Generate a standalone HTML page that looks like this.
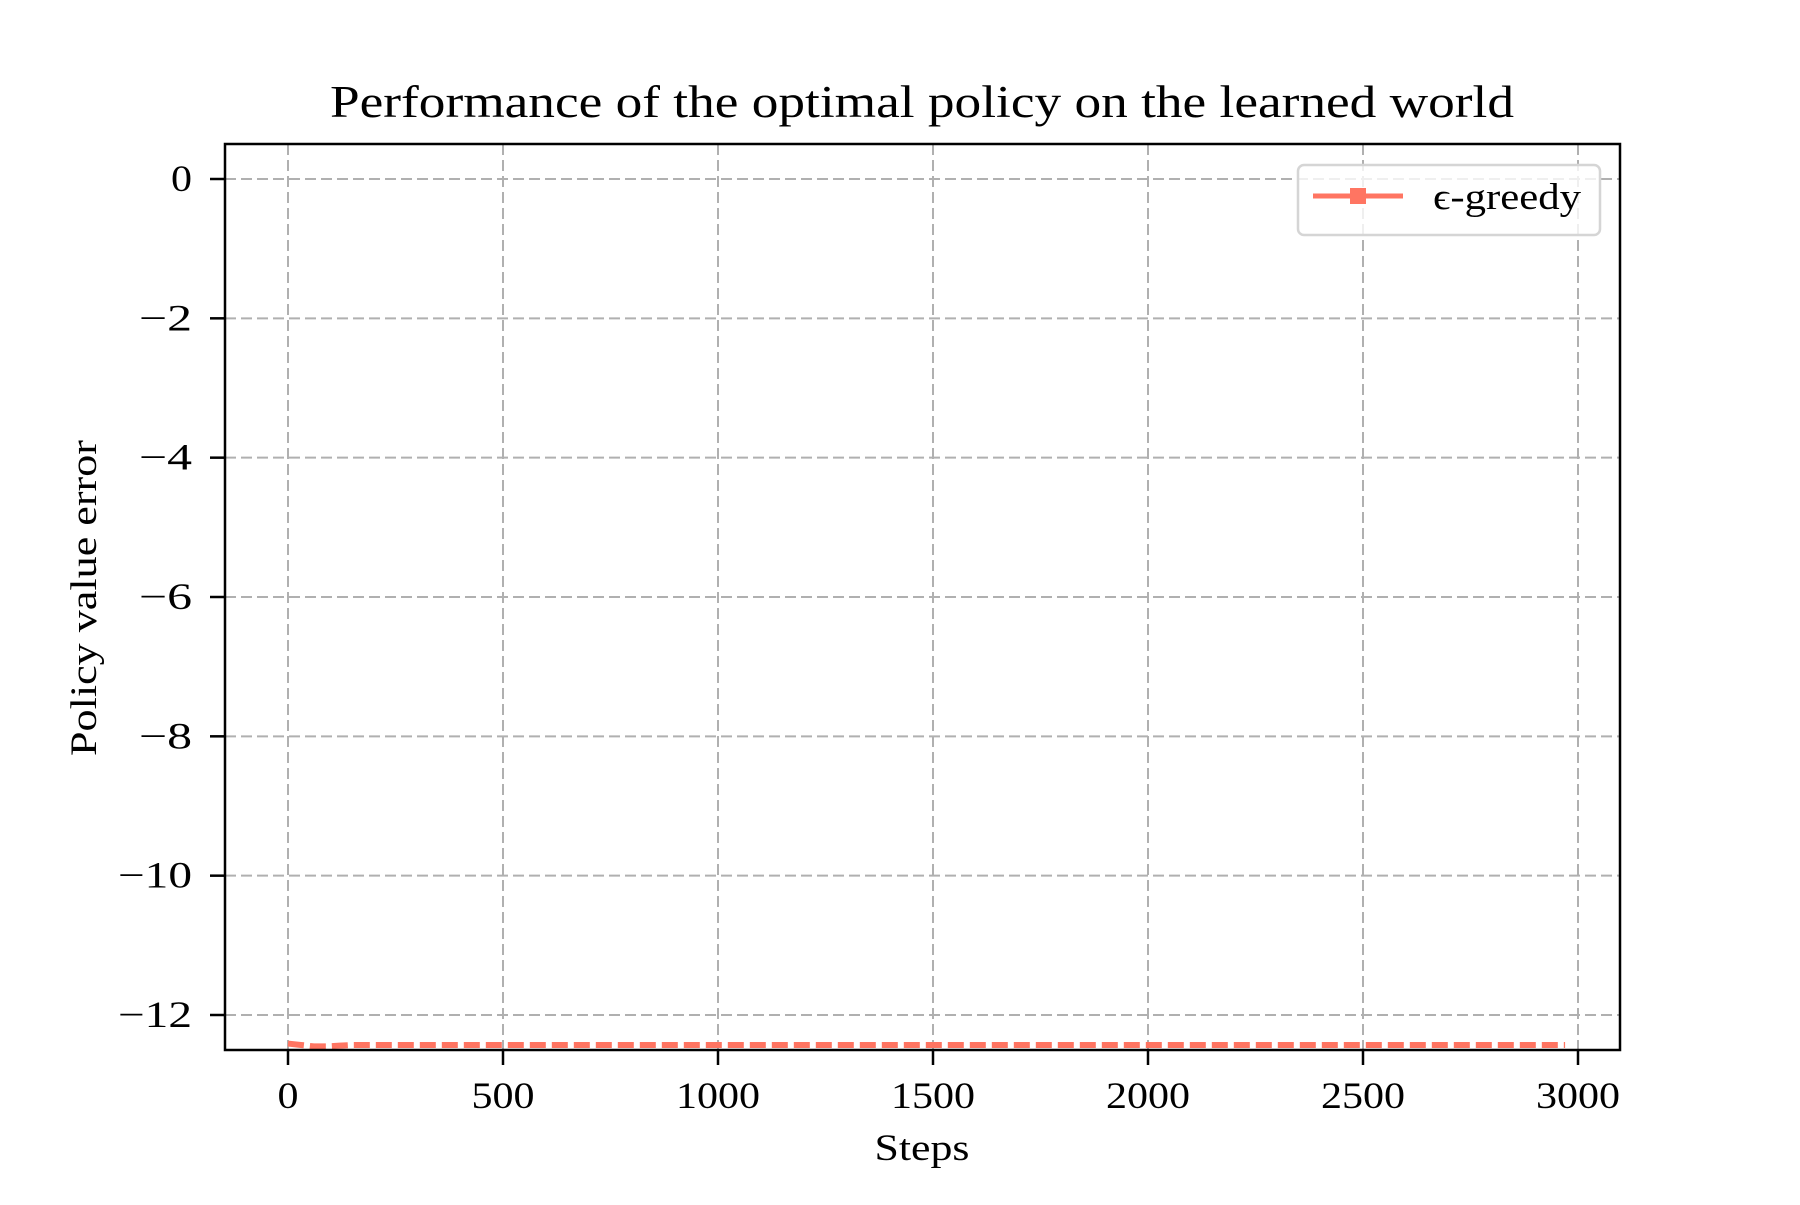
<!DOCTYPE html>
<html><head><meta charset="utf-8"><style>
html,body{margin:0;padding:0;background:#fff;}
svg text{font-family:"Liberation Serif","DejaVu Serif",serif;fill:#000;}
</style></head><body>
<svg id="chart" width="1800" height="1200" viewBox="0 0 1800 1200" xmlns="http://www.w3.org/2000/svg">
<rect width="1800" height="1200" fill="#fff"/>
<text x="922" y="117" font-size="45" text-anchor="middle" textLength="1184" lengthAdjust="spacingAndGlyphs">Performance of the optimal policy on the learned world</text>
<g id="grid"></g>
<g id="series"></g>
<rect x="225" y="144" width="1395" height="906" fill="none" stroke="#000" stroke-width="2.5"/>
<g id="ticks"></g>
<text x="922" y="1160" font-size="37" text-anchor="middle" textLength="95" lengthAdjust="spacingAndGlyphs">Steps</text>
<text transform="translate(96,598) rotate(-90)" font-size="37" text-anchor="middle" textLength="316" lengthAdjust="spacingAndGlyphs">Policy value error</text>
<g>
<rect x="1298" y="165" width="302" height="70" rx="6" fill="#fff" fill-opacity="0.8" stroke="#d5d5d5" stroke-width="2.5"/>
<line x1="1313" y1="196" x2="1403" y2="196" stroke="#ff7562" stroke-width="5"/>
<rect x="1350" y="188" width="16" height="16" fill="#ff7562"/>
<text x="1433" y="209" font-size="37" textLength="148" lengthAdjust="spacingAndGlyphs">ϵ-greedy</text>
</g>
</svg>
<script>
const xTicks = [0, 500, 1000, 1500, 2000, 2500, 3000];
const yTicks = [0, -2, -4, -6, -8, -10, -12];
const steps = [0, 30, 60, 90, 120, 150, 300, 600, 900, 1200, 1500, 1800, 2100, 2400, 2700, 2970];
const values = [-12.41, -12.43, -12.45, -12.45, -12.44, -12.43, -12.43, -12.43, -12.43, -12.43, -12.43, -12.43, -12.43, -12.43, -12.43, -12.43];
const NS = "http://www.w3.org/2000/svg";
function sx(v){ return 288 + (v - 0) * (1578 - 288) / 3000; }
function sy(v){ return 179 + (0 - v) * (1015 - 179) / 12; }
function mk(tag, attrs, parent){ const e = document.createElementNS(NS, tag); for (const k in attrs) e.setAttribute(k, attrs[k]); parent.appendChild(e); return e; }
const grid = document.getElementById('grid');
const ticks = document.getElementById('ticks');
xTicks.forEach(t => {
  const x = sx(t);
  const g = mk('line', {x1:x, y1:144, x2:x, y2:1050, stroke:'#b0b0b0', 'stroke-width':2, 'stroke-dasharray':'11,5'}, grid);
  
  
  const tk = mk('line', {x1:x, y1:1050, x2:x, y2:1065, stroke:'#000', 'stroke-width':2.5}, ticks);
  
  
  const s = String(t);
  const tx = mk('text', {x:x, y:1108, 'font-size':37, 'text-anchor':'middle', textLength: s.length * 21, lengthAdjust:'spacingAndGlyphs'}, ticks);
  tx.textContent = s;
  
  
});
yTicks.forEach(t => {
  const y = sy(t);
  const g = mk('line', {x1:225, y1:y, x2:1620, y2:y, stroke:'#b0b0b0', 'stroke-width':2, 'stroke-dasharray':'11,5'}, grid);
  
  
  const tk = mk('line', {x1:210, y1:y, x2:225, y2:y, stroke:'#000', 'stroke-width':2.5}, ticks);
  
  
  const s = t < 0 ? '\u2212' + Math.abs(t) : String(t);
  const w = (t < 0 ? 32 : 0) + String(Math.abs(t)).length * 21;
  const tx = mk('text', {x:192, y:y + 12, 'font-size':37, 'text-anchor':'end', textLength: w, lengthAdjust:'spacingAndGlyphs'}, ticks);
  tx.textContent = s;
  
  
});
const series = document.getElementById('series');
const pts = steps.map((s, i) => sx(s) + ',' + sy(values[i])).join(' ');
const pl = mk('polyline', {points:pts, fill:'none', stroke:'#ff7562', 'stroke-width':6, 'stroke-dasharray':'16,6'}, series);


</script>
</body></html>
